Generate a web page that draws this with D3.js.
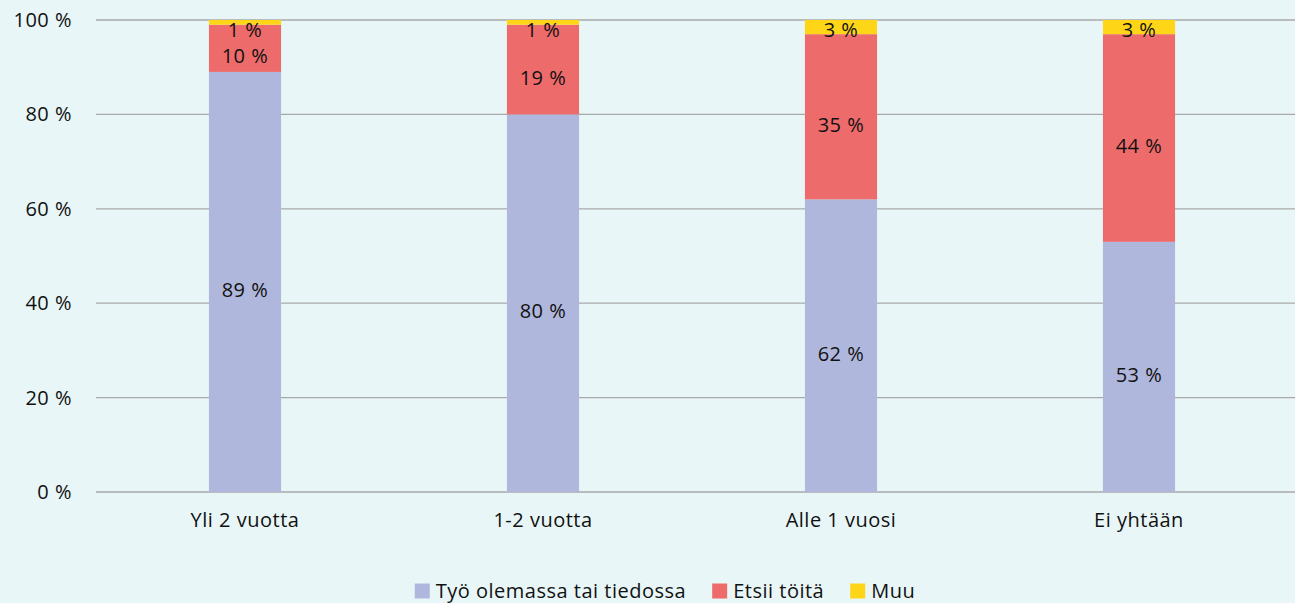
<!DOCTYPE html>
<html>
<head>
<meta charset="utf-8">
<script src="https://cdn.jsdelivr.net/npm/d3@7"></script>
<style>
  body { margin: 0; background: #e8f6f7; }
  svg { display: block; font-family: "Open Sans", "Noto Sans", sans-serif; letter-spacing: 0.5px; }
</style>
</head>
<body>
<svg id="chart" width="1295" height="603"></svg>
<script>
var categories = ["Yli 2 vuotta", "1-2 vuotta", "Alle 1 vuosi", "Ei yhtään"];
var seriesNames = ["Työ olemassa tai tiedossa", "Etsii töitä", "Muu"];
var tyo = [89, 80, 62, 53];
var etsii = [10, 19, 35, 44];
var muu = [1, 1, 3, 3];
var yTicks = [0, 20, 40, 60, 80, 100];
var colors = ["#b0b7dc", "#ee6b6b", "#ffd518"];

var svg = d3.select("svg#chart"),
    margin = { top: 20, right: 7, bottom: 111, left: 96 },
    width = svg.attr("width") - margin.left - margin.right,
    height = svg.attr("height") - margin.top - margin.bottom,
    g = svg.append("g")
        .attr("transform", "translate(" + margin.left + "," + margin.top + ")");

var rows = categories.map(function(c, i) {
    return { cat: c, s0: tyo[i], s1: etsii[i], s2: muu[i] };
});
var keys = ["s0", "s1", "s2"];
var stacked = d3.stack().keys(keys)(rows);

var x = d3.scaleBand().domain(categories).range([0, width]).paddingInner(0.758).paddingOuter(0.379);
var y = d3.scaleLinear().domain([0, 100]).range([height, 0]);

// gridlines
g.append("g")
    .selectAll("line")
    .data(yTicks)
    .enter()
    .append("line")
    .attr("x1", 0)
    .attr("x2", width + margin.right)
    .attr("y1", d => y(d))
    .attr("y2", d => y(d))
    .attr("stroke", "#a9a9a9")
    .attr("stroke-width", 1.3);

// y labels
g.append("g")
    .selectAll("text")
    .data(yTicks)
    .enter()
    .append("text")
    .attr("x", -24)
    .attr("y", d => y(d))
    .attr("dy", "0.35em")
    .attr("text-anchor", "end")
    .attr("font-size", "20px")
    .attr("fill", "#111")
    .text(d => d + " %");

// bars
var layers = g.append("g")
    .selectAll("g")
    .data(stacked)
    .enter()
    .append("g")
    .attr("fill", (d, i) => colors[i]);

layers.selectAll("rect")
    .data(d => d)
    .enter()
    .append("rect")
    .attr("x", d => x(d.data.cat))
    .attr("y", d => y(d[1]))
    .attr("width", x.bandwidth())
    .attr("height", d => y(d[0]) - y(d[1]));

// data labels (sit a little below the segment centre, as in the original)
layers.selectAll("text")
    .data((d, i) => d.map(v => ({ v: v, key: keys[i] })))
    .enter()
    .append("text")
    .attr("x", d => x(d.v.data.cat) + x.bandwidth() / 2)
    .attr("y", d => Math.min(y((d.v[0] + d.v[1]) / 2) + 8, d.key == "s2" ? y(100) + 10 : 1e9))
    .attr("dy", "0.35em")
    .attr("text-anchor", "middle")
    .attr("font-size", "20px")
    .attr("fill", "#111")
    .text(d => d.v.data[d.key] + " %");

// x labels
g.append("g")
    .selectAll("text")
    .data(categories)
    .enter()
    .append("text")
    .attr("x", d => x(d) + x.bandwidth() / 2)
    .attr("y", height + 28)
    .attr("dy", "0.35em")
    .attr("text-anchor", "middle")
    .attr("font-size", "20px")
    .attr("fill", "#111")
    .text(d => d);

// legend
var legend = svg.append("g").attr("class", "legend");
var items = legend.selectAll("g")
    .data(seriesNames)
    .enter()
    .append("g");
items.append("rect")
    .attr("width", 15)
    .attr("height", 15)
    .attr("y", -7.5)
    .attr("fill", (d, i) => colors[i]);
items.append("text")
    .attr("x", 21)
    .attr("dy", "0.35em")
    .attr("font-size", "20px")
    .attr("fill", "#111")
    .text(d => d);

var offset = 0, widths = [];
items.each(function() {
    widths.push(this.getBBox().width);
});
var gap = 26;
var total = d3.sum(widths) + gap * (widths.length - 1);
var start = 665 - total / 2;
items.attr("transform", function(d, i) {
    var t = "translate(" + (start + offset) + ",591)";
    offset += widths[i] + gap;
    return t;
});
</script>
</body>
</html>
